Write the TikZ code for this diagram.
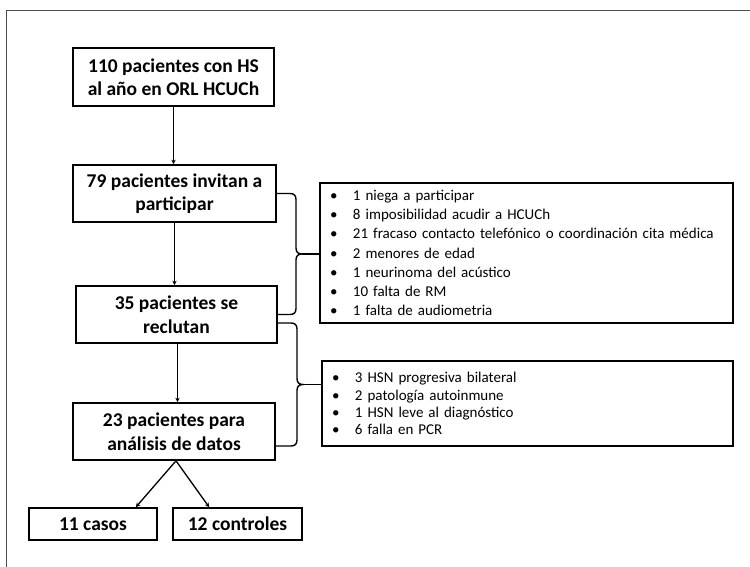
\documentclass[tikz,border=0pt]{standalone}
\usepackage{fontspec}
\setmainfont{Carlito}
\usetikzlibrary{arrows.meta,calc}
\newcommand\sideitem[1]{\hspace*{4pt}\makebox[23pt][l]{\textbullet}#1}
\begin{document}
\begin{tikzpicture}[x=1pt,y=-1pt,
  box/.style={draw=black,line width=1.6pt,align=center,inner sep=0pt,
    font=\fontsize{19.5}{23.5}\selectfont\bfseries},
  side/.style={draw=black,line width=1.4pt,align=left,inner xsep=6pt,inner ysep=0pt},
  arr/.style={line width=1.3pt,-{Stealth[length=4.5pt,width=4.5pt]}},
  brace/.style={line width=1.4pt},
  frame/.style={line width=1pt,draw=black!70}]
\useasboundingbox (0,0) rectangle (750,567);
\draw[frame] (6,567) -- (6,11) -- (750,11);

\node[box,minimum width=201pt,minimum height=58pt] (b1) at (173.5,77) {110 pacientes con HS\\al año en ORL HCUCh};
\node[box,minimum width=203pt,minimum height=57pt] (b2) at (174.5,193.5) {79 pacientes invitan a\\participar};
\node[box,minimum width=201pt,minimum height=57pt] (b3) at (176.5,314.5) {35 pacientes se\\reclutan};
\node[box,minimum width=202pt,minimum height=57pt] (b4) at (174,431.5) {23 pacientes para\\análisis de datos};
\node[box,minimum width=128pt,minimum height=32pt] (c1) at (93,524) {11 casos};
\node[box,minimum width=129pt,minimum height=32pt] (c2) at (237.5,524) {12 controles};

\node[side,text width=401pt,minimum height=140pt,font=\fontsize{15}{19.2}\selectfont] (s1) at (526.5,253)
 {\sideitem{1 niega a participar}\\
  \sideitem{8 imposibilidad acudir a HCUCh}\\
  \sideitem{21 fracaso contacto telefónico o coordinación cita médica}\\
  \sideitem{2 menores de edad}\\
  \sideitem{1 neurinoma del acústico}\\
  \sideitem{10 falta de RM}\\
  \sideitem{1 falta de audiometria}};
\node[side,text width=399pt,minimum height=85pt,font=\fontsize{15}{17.3}\selectfont] (s2) at (527.5,403.5)
 {\sideitem{3 HSN progresiva bilateral}\\
  \sideitem{2 patología autoinmune}\\
  \sideitem{1 HSN leve al diagnóstico}\\
  \sideitem{6 falla en PCR}};

\draw[arr] (b1.south) -- (b1.south |- b2.north);
\draw[arr] (b2.south) -- (b2.south |- b3.north);
\draw[arr] ($(b3.south)+(1,0)$) -- ($(b3.south |- b4.north)+(1,0)$);
\draw[arr] ($(b4.south)+(2,0)$) -- ($(c1.north east)+(-22,0)$);
\draw[arr] ($(b4.south)+(2,0)$) -- ($(c2.north west)+(37,0)$);

\draw[brace] (b2.east) -- (290,193.5) .. controls +(4,0) and +(0,-4) .. (296,199.5)
  -- (296,248) .. controls +(0,4) and +(-4,0) .. (302,254) coordinate (tip1)
  .. controls +(-4,0) and +(0,-4) .. (296,260) -- (296,308.5)
  .. controls +(0,4) and +(4,0) .. (290,314.5) -- (b3.east);
\draw[brace] (tip1) -- (tip1 -| s1.west);

\draw[brace] ($(b3.east)+(0,8.5)$) -- (291,323) .. controls +(4,0) and +(0,-4) .. (297,329)
  -- (297,378.5) .. controls +(0,4) and +(-4,0) .. (303,384.5) coordinate (tip2)
  .. controls +(-4,0) and +(0,-4) .. (297,390.5) -- (297,440)
  .. controls +(0,4) and +(4,0) .. (291,446) -- ($(b4.east)+(0,14.5)$);
\draw[brace] (tip2) -- (tip2 -| s2.west);
\end{tikzpicture}
\end{document}
